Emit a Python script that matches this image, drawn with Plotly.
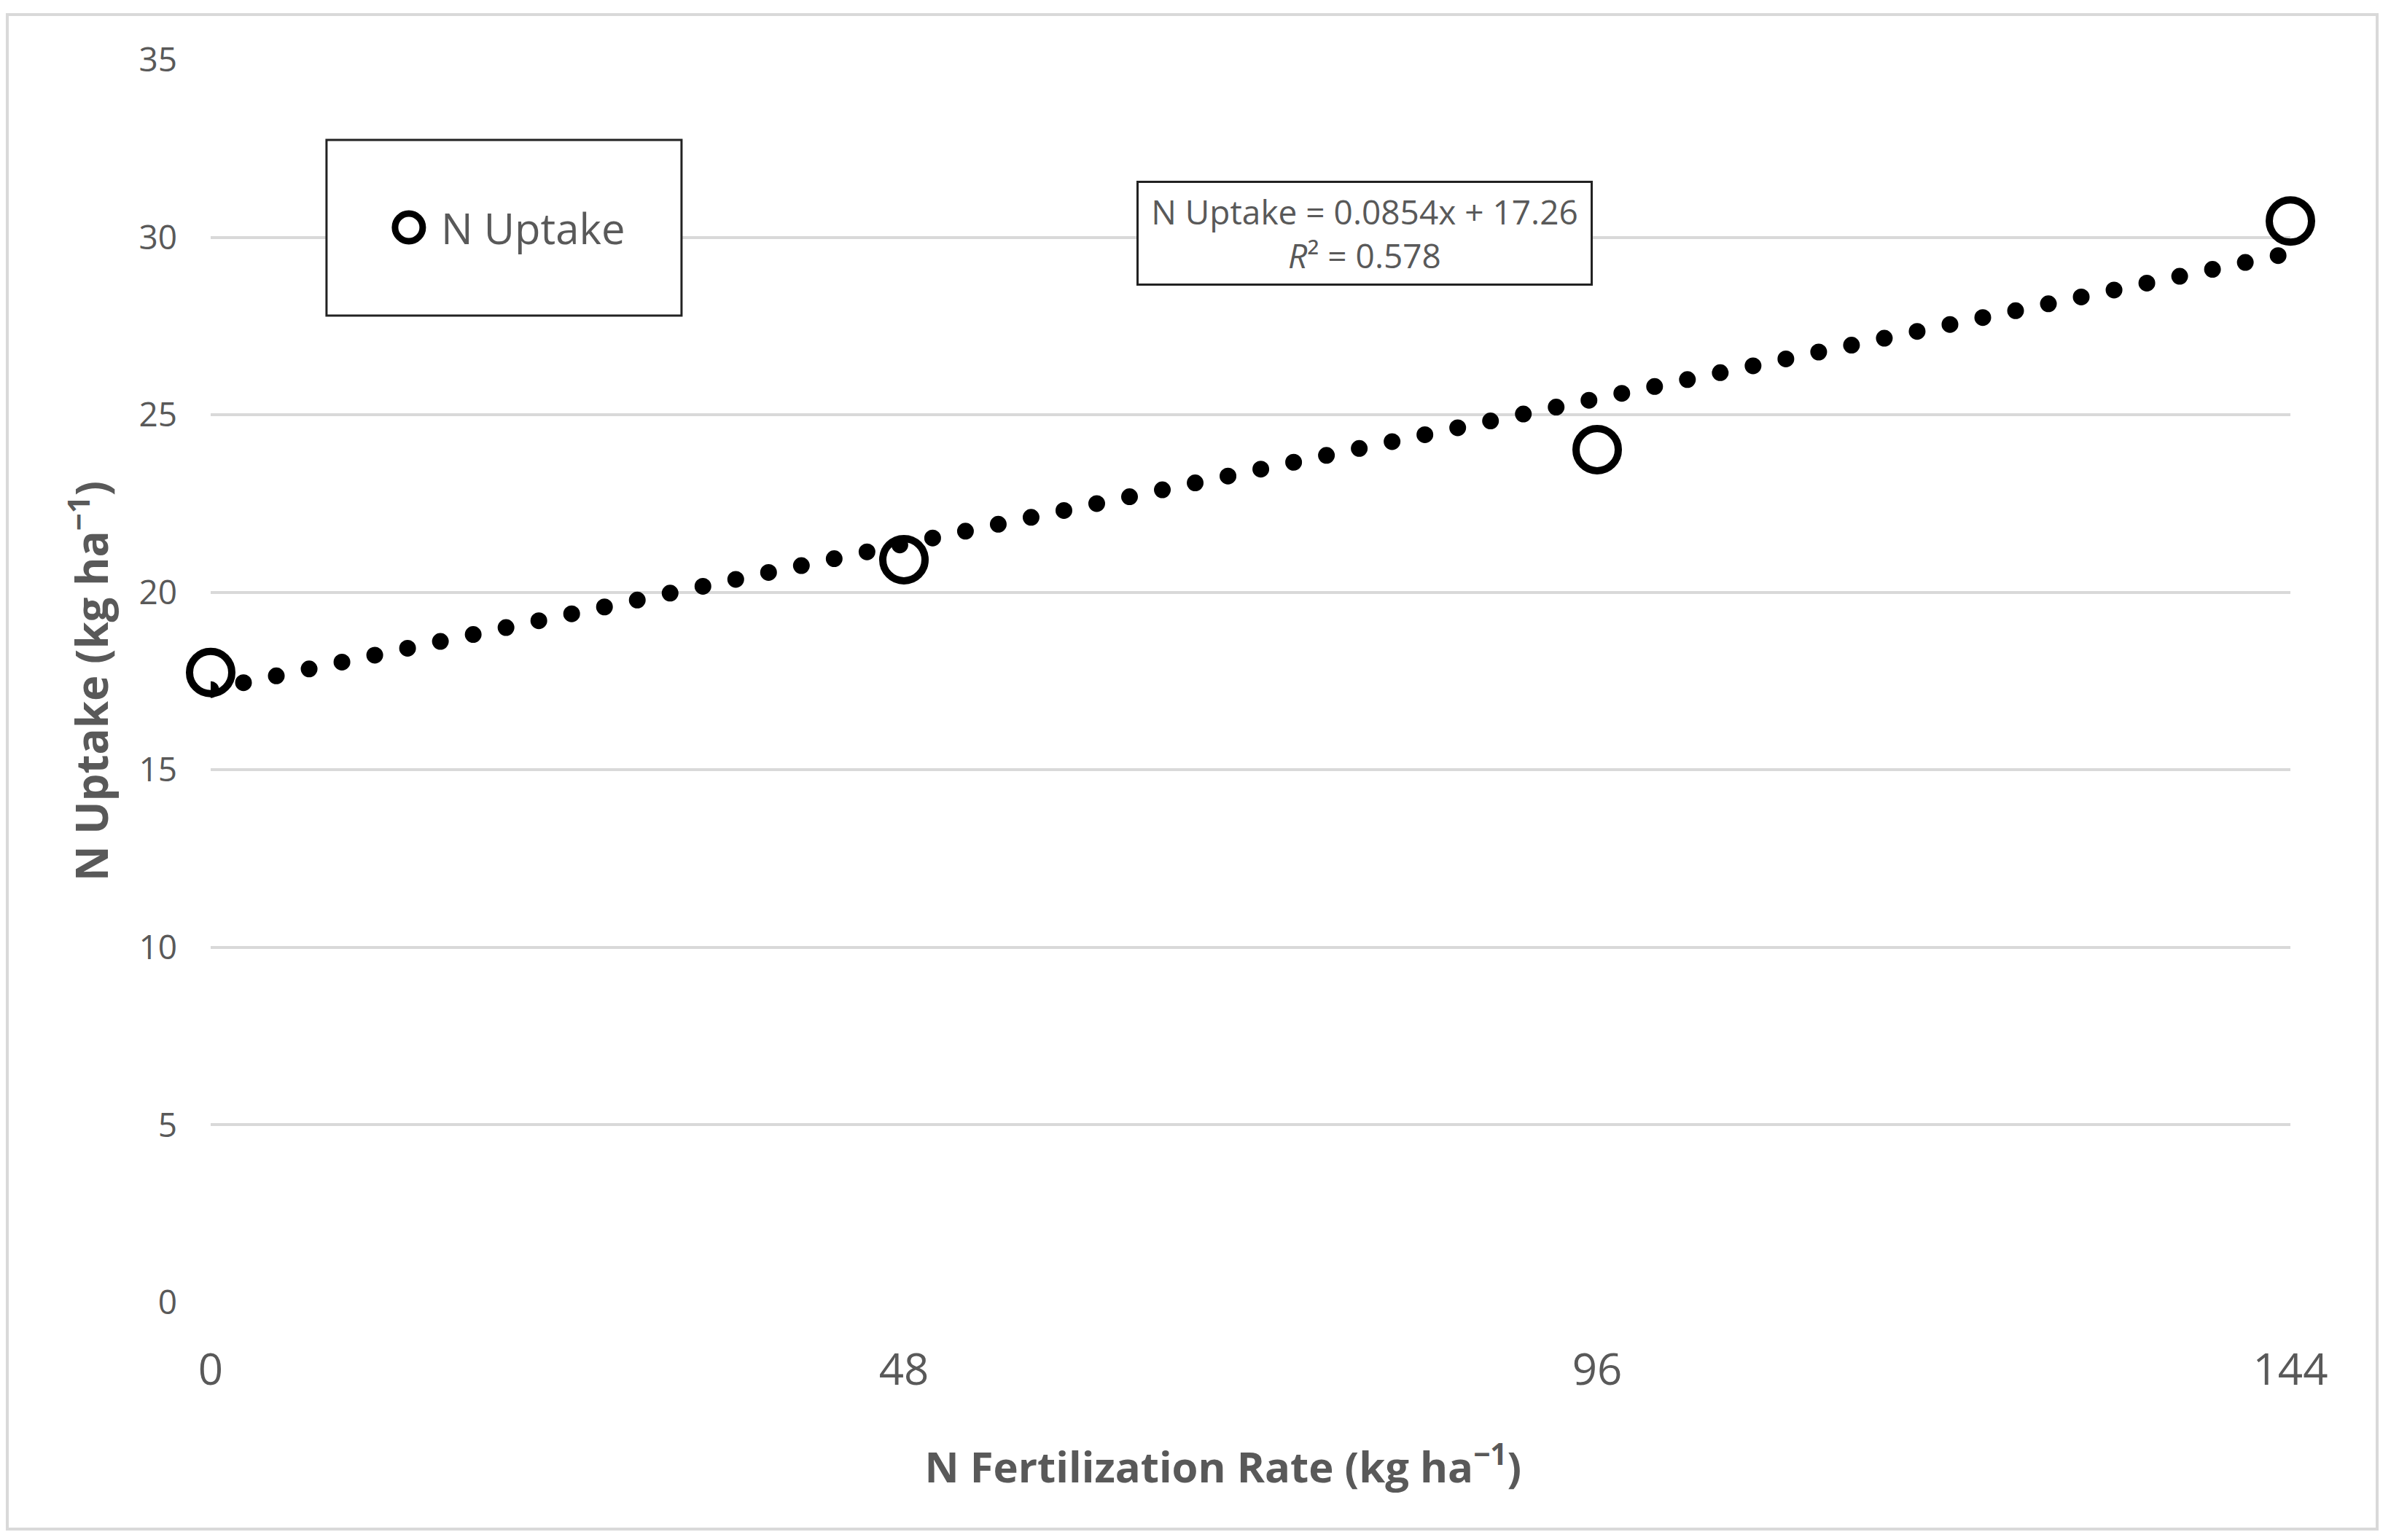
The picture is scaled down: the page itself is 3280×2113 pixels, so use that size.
import plotly.graph_objects as go

# ---- data ----
rates = [0, 48, 96, 144]                 # N fertilization rate (kg ha-1)
uptake = [17.74, 20.92, 24.02, 30.46]    # N uptake (kg ha-1)
trend_slope = 0.0854
trend_intercept = 17.26
trend_r2 = 0.578
x_ticks = [0, 48, 96, 144]
y_ticks = [0, 5, 10, 15, 20, 25, 30, 35]

trend_x = [rates[0], rates[-1]]
trend_y = [trend_slope * v + trend_intercept for v in trend_x]

GRAY = "#595959"
FONT = "Open Sans"

fig = go.Figure()
fig.add_trace(go.Scatter(
    x=rates, y=uptake, mode="markers", name="N Uptake",
    marker=dict(symbol="circle-open", size=58, color="black",
                line=dict(width=10, color="black")),
    cliponaxis=False, showlegend=False,
))
fig.add_trace(go.Scatter(
    x=trend_x, y=trend_y, mode="lines", name="Linear (N Uptake)",
    line=dict(color="black", width=23, dash="0px,46px"),
    cliponaxis=False, showlegend=False,
))

# custom legend (box, ring symbol, text)
fig.add_shape(type="rect", xref="paper", yref="paper",
              x0=0.0557, x1=0.2264, y0=0.7941, y1=0.9355,
              line=dict(color="#222222", width=3), fillcolor="white", layer="above")
fig.add_shape(type="circle", xref="paper", yref="paper",
              xsizemode="pixel", ysizemode="pixel",
              xanchor=0.0953, yanchor=0.8651,
              x0=-19, x1=19, y0=-19, y1=19,
              line=dict(color="black", width=9), layer="above")
fig.add_annotation(xref="paper", yref="paper", x=0.1101, y=0.8651,
                   xanchor="left", yanchor="middle", showarrow=False,
                   text="N Uptake", font=dict(family=FONT, size=58, color=GRAY))

# equation box
fig.add_annotation(xref="paper", yref="paper", x=(1872 - 289) / 2853, y=(1787 - 320) / 1705,
                   xanchor="center", yanchor="middle", showarrow=False,
                   text=f"N Uptake = {trend_slope}x + {trend_intercept}<br><i>R</i>² = {trend_r2}",
                   font=dict(family=FONT, size=46, color=GRAY),
                   bordercolor="#222222", borderwidth=3, bgcolor="white",
                   width=620, height=138, borderpad=0)

# outer chart border
fig.add_shape(type="rect", xref="paper", yref="paper",
              x0=-0.0978, x1=1.0417, y0=-0.1824, y1=1.0364,
              line=dict(color="#d9d9d9", width=4), layer="below")

fig.update_layout(
    width=3280, height=2113,
    margin=dict(l=289, r=138, t=82, b=326),
    paper_bgcolor="white", plot_bgcolor="white",
    font=dict(family=FONT, color=GRAY),
    showlegend=False,
)
fig.update_xaxes(
    range=[0, 144], tickvals=x_ticks, ticktext=[str(v) for v in x_ticks],
    showgrid=False, zeroline=False, showline=False,
    ticks="", tickfont=dict(family=FONT, size=60, color=GRAY),
    ticklabelstandoff=52,
    title=dict(text="<b>N Fertilization Rate (kg ha<sup>−1</sup>)</b>" + "&nbsp;" * 5,
               font=dict(family=FONT, size=58, color=GRAY), standoff=76),
)
fig.update_yaxes(
    range=[0, 35], tickvals=y_ticks,
    showgrid=True, gridcolor="#d9d9d9", gridwidth=4,
    zeroline=False, showline=False,
    ticks="", tickfont=dict(family=FONT, size=46, color=GRAY),
    ticklabelstandoff=45,
    title=dict(text="<b>N Uptake (kg ha<sup>−1</sup>)</b>",
               font=dict(family=FONT, size=60, color=GRAY), standoff=22),
)

post = """
document.body.style.margin = '0';
document.body.style.overflow = 'hidden';
var gd = document.getElementById('{plot_id}');
function fixCaps(){
  gd.querySelectorAll('.scatterlayer .trace .js-line').forEach(function(p){
    p.style.strokeLinecap = 'round';
  });
}
fixCaps();
if (gd.on) { gd.on('plotly_afterplot', fixCaps); }
"""
fig.write_html("out.html", post_script=post, config={"displayModeBar": False})
